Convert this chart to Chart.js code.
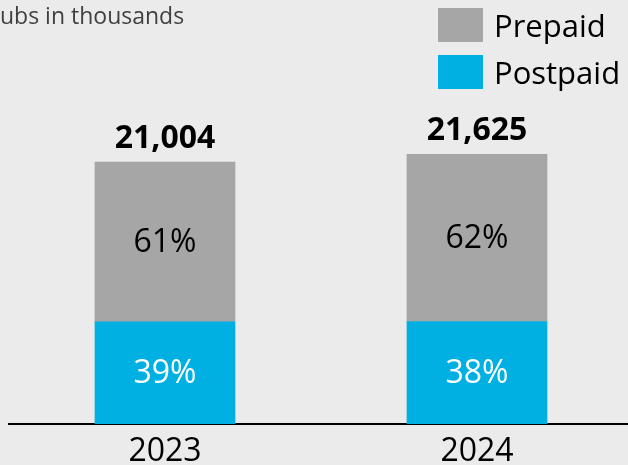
<!DOCTYPE html>
<html>
<head>
<meta charset="utf-8">
<script src="https://cdn.jsdelivr.net/npm/chart.js@4/dist/chart.umd.min.js"></script>
<style>
  html, body { margin: 0; padding: 0; background: #ebebeb; overflow: hidden; }
  body { width: 628px; height: 465px; position: relative; }
  #subsChart { position: absolute; left: -12px; top: 0; }
</style>
</head>
<body>
<canvas id="subsChart" width="646" height="465"></canvas>
<script>
// Subscribers in thousands, split by contract type
const years = ['2023', '2024'];
const totals = [21004, 21625];
const postpaidSubs = [8192, 8218];
const prepaidSubs = [12812, 13407];
const postpaidPct = ['39%', '38%'];
const prepaidPct = ['61%', '62%'];

const FONT = "'Open Sans', sans-serif";

// Title, legend, segment shares and totals drawn on top of the bars
const labelPlugin = {
    id: 'labelPlugin',
    afterDraw(chart) {
        const ctx = chart.ctx;
        ctx.save();

        // title, first letter falls outside the visible page
        ctx.font = '23px ' + FONT;
        ctx.fillStyle = '#404040';
        ctx.textAlign = 'left';
        ctx.textBaseline = 'alphabetic';
        ctx.fillText('Subs in thousands', 12 - ctx.measureText('S').width, 24);

        // legend: Prepaid first, then Postpaid
        const items = chart.data.datasets.slice().reverse();
        ctx.font = '31px ' + FONT;
        items.forEach((ds, i) => {
            const top = 8 + i * 47;
            ctx.fillStyle = ds.backgroundColor;
            ctx.fillRect(450, top, 45, 34);
            ctx.fillStyle = '#000';
            ctx.fillText(ds.label, 506, top + 29);
        });

        // percentages inside each segment
        ctx.textAlign = 'center';
        ctx.textBaseline = 'middle';
        ctx.font = '32px ' + FONT;
        chart.data.datasets.forEach((ds, di) => {
            const meta = chart.getDatasetMeta(di);
            meta.data.forEach((bar, i) => {
                ctx.fillStyle = ds.textColor;
                ctx.fillText(ds.shares[i], bar.x, (bar.y + bar.base) / 2 + 1);
            });
        });

        // totals above the stacks
        const topMeta = chart.getDatasetMeta(chart.data.datasets.length - 1);
        ctx.font = 'bold 32px ' + FONT;
        ctx.fillStyle = '#000';
        ctx.textBaseline = 'alphabetic';
        topMeta.data.forEach((bar, i) => {
            ctx.fillText(totals[i].toLocaleString('en-US'), bar.x, bar.y - 14);
        });

        ctx.restore();
    }
};

const ctx = document.getElementById('subsChart').getContext('2d');
new Chart(ctx, {
    type: 'bar',
    data: {
        labels: years,
        datasets: [{
            label: 'Postpaid',
            data: postpaidSubs,
            shares: postpaidPct,
            textColor: '#ffffff',
            backgroundColor: '#00b0e3',
            borderWidth: 0,
            barThickness: 140
        }, {
            label: 'Prepaid',
            data: prepaidSubs,
            shares: prepaidPct,
            textColor: '#000000',
            backgroundColor: '#a6a6a6',
            borderWidth: 0,
            barThickness: 140
        }]
    },
    options: {
        responsive: false,
        animation: false,
        layout: { padding: { left: 21, right: 1, top: 0, bottom: 0 } },
        plugins: {
            legend: { display: false },
            title: { display: false },
            tooltip: { enabled: false }
        },
        scales: {
            x: {
                stacked: true,
                grid: { display: false, drawTicks: false },
                border: { display: true, color: '#000', width: 2 },
                ticks: {
                    color: '#000',
                    padding: 9,
                    font: { family: FONT, size: 32 }
                },
                afterFit(scale) {
                    scale.height = 41;
                }
            },
            y: {
                stacked: true,
                display: false,
                min: 0,
                max: 34000
            }
        }
    },
    plugins: [labelPlugin]
});
</script>
</body>
</html>
